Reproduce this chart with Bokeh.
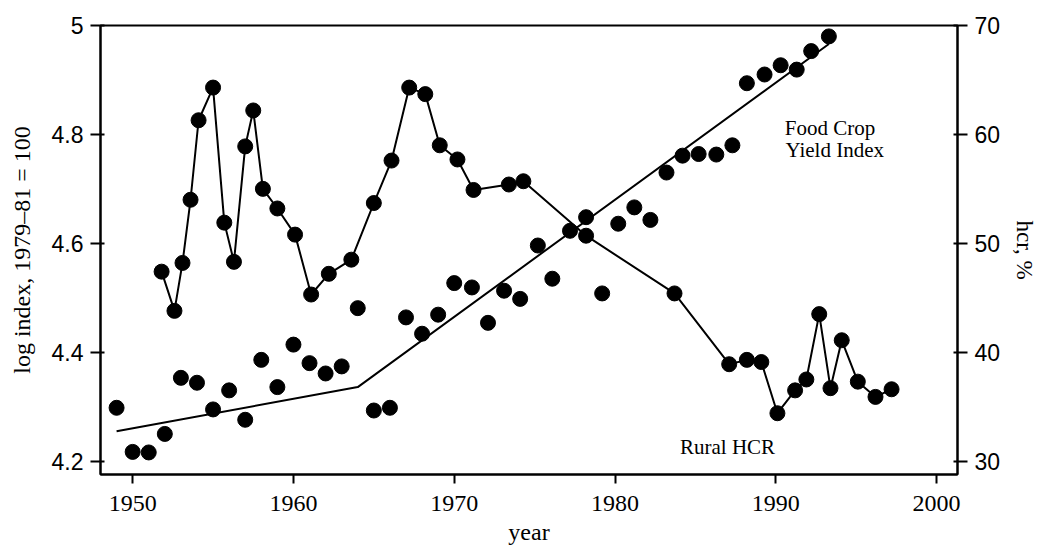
from bokeh.plotting import figure
from bokeh.models import Range1d, LinearAxis, FixedTicker, Label
from bokeh.embed import file_html
from bokeh.resources import INLINE

# Food crop yield index (log index, 1979-81 = 100), scatter
fc_years = [1949.0, 1950.0, 1951.0, 1952.0, 1953.0, 1954.0, 1955.0, 1956.0, 1957.0, 1958.0,
            1959.0, 1960.0, 1961.0, 1962.0, 1963.0, 1964.0, 1965.0, 1966.0, 1967.0, 1968.0,
            1969.0, 1970.0, 1971.1, 1972.1, 1973.1, 1974.1, 1975.2, 1976.1, 1977.2, 1978.2,
            1979.2, 1980.2, 1981.2, 1982.2, 1983.2, 1984.2, 1985.2, 1986.3, 1987.3, 1988.2,
            1989.3, 1990.3, 1991.3, 1992.2, 1993.3]
fc_log = [4.298, 4.217, 4.216, 4.250, 4.353, 4.344, 4.295, 4.330, 4.276, 4.386,
          4.336, 4.414, 4.380, 4.361, 4.374, 4.481, 4.293, 4.298, 4.464, 4.434,
          4.469, 4.527, 4.519, 4.454, 4.513, 4.498, 4.596, 4.535, 4.623, 4.648,
          4.508, 4.636, 4.666, 4.643, 4.730, 4.761, 4.764, 4.763, 4.780, 4.894,
          4.910, 4.927, 4.919, 4.953, 4.980]

# Food crop yield trend (kinked line)
trend_years = [1949.0, 1964.0, 1993.3]
trend_log = [4.255, 4.336, 4.966]

# Rural head-count ratio, %
hcr_years = [1951.8, 1952.6, 1953.1, 1953.6, 1954.1, 1955.0, 1955.7, 1956.3, 1957.0, 1957.5,
             1958.1, 1959.0, 1960.1, 1961.1, 1962.2, 1963.6, 1965.0, 1966.1, 1967.2, 1968.2,
             1969.1, 1970.2, 1971.2, 1973.4, 1974.3, 1978.2, 1983.7, 1987.1, 1988.2, 1989.1,
             1990.1, 1991.2, 1991.9, 1992.7, 1993.4, 1994.1, 1995.1, 1996.2, 1997.2]
hcr_pct = [47.4, 43.8, 48.2, 54.0, 61.3, 64.3, 51.9, 48.3, 58.9, 62.2,
           55.0, 53.2, 50.8, 45.3, 47.2, 48.5, 53.7, 57.6, 64.3, 63.7,
           59.0, 57.7, 54.9, 55.4, 55.7, 50.7, 45.4, 38.9, 39.3, 39.1,
           34.4, 36.5, 37.5, 43.5, 36.7, 41.1, 37.3, 35.9, 36.6]

x_ticks = [1950, 1960, 1970, 1980, 1990, 2000]
y_ticks = [4.2, 4.4, 4.6, 4.8, 5.0]
hcr_ticks = [30, 40, 50, 60, 70]

SERIF = "Liberation Serif"
SANS = "Liberation Sans"

p = figure(width=1040, height=548, output_backend="svg", toolbar_location=None,
           x_range=Range1d(1948.0, 2001.3), y_range=Range1d(4.1755, 5.0),
           min_border_left=100, min_border_right=80, min_border_top=25, min_border_bottom=74,
           background_fill_color="white", border_fill_color="white")
p.extra_y_ranges = {"hcr": Range1d(28.775, 70.0)}
p.grid.visible = False
p.outline_line_color = "black"
p.outline_line_width = 2

# lines and points
p.line(trend_years, trend_log, line_color="black", line_width=2)
p.scatter(fc_years, fc_log, size=15, fill_color="black", line_color="black")
p.line(hcr_years, hcr_pct, line_color="black", line_width=2, y_range_name="hcr")
p.scatter(hcr_years, hcr_pct, size=15, fill_color="black", line_color="black", y_range_name="hcr")

# axes
xa = p.xaxis[0]
xa.ticker = FixedTicker(ticks=x_ticks)
xa.axis_label = "year"
xa.minor_tick_line_color = None

ya = p.yaxis[0]
ya.ticker = FixedTicker(ticks=y_ticks)
ya.major_label_overrides = {4.2: "4.2", 4.4: "4.4", 4.6: "4.6", 4.8: "4.8", 5.0: "5"}
ya.axis_label = "log index, 1979\u201381 = 100"
ya.minor_tick_line_color = None

ra = LinearAxis(y_range_name="hcr", ticker=FixedTicker(ticks=hcr_ticks), axis_label="hcr, %")
ra.minor_tick_line_color = None
p.add_layout(ra, "right")

for ax in (xa, ya, ra):
    ax.axis_line_width = 2
    ax.axis_line_color = "black"
    ax.major_tick_line_width = 2
    ax.major_tick_line_color = "black"
    ax.major_label_text_color = "black"
    ax.axis_label_text_color = "black"
    ax.axis_label_text_font_style = "normal"
    ax.axis_label_text_font = SERIF

xa.major_tick_out = 9
xa.major_tick_in = 0
xa.major_label_text_font = SERIF
xa.major_label_text_font_size = "24px"
xa.major_label_standoff = 12
xa.axis_label_text_font_size = "24px"
xa.axis_label_standoff = 5

for ax in (ya, ra):
    ax.major_tick_out = 10
    ax.major_tick_in = 4
    ax.major_label_text_font = SANS
    ax.major_label_text_font_size = "23px"
    ax.major_label_standoff = 7

ya.axis_label_text_font_size = "24px"
ya.axis_label_standoff = 14
ra.axis_label_text_font_size = "23px"
ra.axis_label_standoff = 9

# annotations
ann_font = 21
p.add_layout(Label(x=1990.56, y=4.812, text="Food Crop", text_font=SERIF,
                   text_font_size=f"{ann_font}px", text_color="black", text_baseline="alphabetic"))
p.add_layout(Label(x=1990.6, y=4.772, text="Yield Index", text_font=SERIF,
                   text_font_size=f"{ann_font}px", text_color="black", text_baseline="alphabetic"))
p.add_layout(Label(x=1984.04, y=4.2257, text="Rural HCR", text_font=SERIF,
                   text_font_size=f"{ann_font}px", text_color="black", text_baseline="alphabetic"))

open("out.html", "w").write(file_html(p, INLINE))
